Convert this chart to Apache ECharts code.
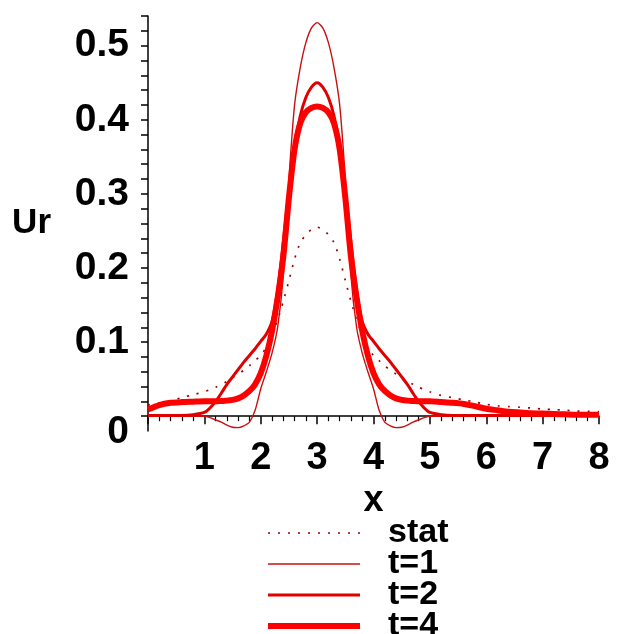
<!DOCTYPE html>
<html>
<head>
<meta charset="utf-8">
<script src="https://cdn.jsdelivr.net/npm/echarts@6/dist/echarts.min.js"></script>
<style>
html,body{margin:0;padding:0;background:#fff;overflow:hidden;}
#c{width:617px;height:720px;}
</style>
</head>
<body>
<div id="c"></div>
<script>
var xs = [0,0.2,0.4,0.6,0.8,1,1.1,1.2,1.3,1.4,1.5,1.6,1.7,1.8,1.9,2,2.1,2.2,2.3,2.4,2.5,2.6,2.7,2.8,2.9,3,3.1,3.2,3.3,3.4,3.5,3.6,3.7,3.8,3.9,4,4.1,4.2,4.3,4.4,4.5,4.6,4.7,4.8,4.9,5,5.2,5.4,5.6,5.8,6,6.2,6.4,6.6,6.8,7,7.2,7.4,7.6,7.8,8];

var stat = [0.015,0.018,0.021,0.025,0.029,
0.033,0.036,0.039,0.043,0.047,0.052,0.057,0.062,0.068,0.075,0.082,0.093,0.110,0.130,0.155,0.183,0.212,0.234,0.245,0.252,
0.255,
0.252,0.245,0.234,0.212,0.183,0.155,0.130,0.110,0.093,0.082,0.075,0.068,0.062,0.057,0.052,0.047,0.043,0.039,0.036,0.033,
0.028,0.025,0.022,0.019,0.016,0.014,0.013,0.012,0.011,0.0095,0.009,0.008,0.007,0.0065,0.006];

var t1 = [0,0,0,0,0,
0,-0.002,-0.005,-0.008,-0.012,-0.015,-0.0155,-0.013,-0.008,0.008,0.037,0.06,0.085,0.12,0.19,0.32,0.42,0.47,0.504,0.524,
0.531,
0.524,0.504,0.47,0.42,0.32,0.19,0.12,0.085,0.06,0.037,0.008,-0.008,-0.013,-0.0155,-0.015,-0.012,-0.008,-0.005,-0.002,0,
0,0,0,0,0,0,0,0,0,0,0,0,0,0,0];

var t2 = [0.001,0.001,0.001,0.001,0.002,
0.005,0.011,0.02,0.031,0.043,0.053,0.063,0.073,0.082,0.091,0.101,0.111,0.128,0.17,0.235,0.305,0.365,0.405,0.43,0.444,
0.45,
0.444,0.43,0.405,0.365,0.305,0.235,0.17,0.128,0.111,0.101,0.091,0.082,0.073,0.063,0.053,0.043,0.031,0.02,0.011,0.005,
0.002,0.001,0.001,0.001,0.001,0.001,0.001,0.001,0.001,0.001,0.001,0.001,0.001,0.001,0.001];

var t4 = [0.009,0.015,0.018,0.019,0.0195,
0.02,0.02,0.02,0.0205,0.021,0.022,0.024,0.028,0.034,0.043,0.058,0.082,0.115,0.16,0.215,0.295,0.36,0.395,0.41,0.416,
0.418,
0.416,0.41,0.395,0.36,0.295,0.215,0.16,0.115,0.082,0.058,0.043,0.034,0.028,0.024,0.022,0.021,0.0205,0.02,0.02,0.02,
0.019,0.018,0.0165,0.0135,0.01,0.008,0.006,0.005,0.004,0.0035,0.003,0.0025,0.002,0.002,0.002];

var seriesNames = ['stat','t=1','t=2','t=4'];
var yTickLabels = ['0','0.1','0.2','0.3','0.4','0.5'];

function pairs(arr){ return xs.map(function(x,i){ return [x, arr[i]]; }); }

var FONT = 'Liberation Sans';
var chart = echarts.init(document.getElementById('c'), null, {renderer:'canvas'});
chart.setOption({
  animation: false,
  backgroundColor: '#ffffff',
  grid: {left: 148, right: 18, top: 16, bottom: 289, containLabel: false},
  xAxis: {
    type: 'value', min: 0, max: 8, interval: 1,
    name: 'x', nameLocation: 'middle', nameGap: 52,
    nameTextStyle: {fontFamily: FONT, fontWeight: 'bold', fontSize: 36, color: '#000'},
    axisLine: {show: true, onZero: true, lineStyle: {color: '#000', width: 1.5}},
    axisTick: {show: true, length: 8, lineStyle: {color: '#000', width: 1.5}},
    minorTick: {show: true, splitNumber: 5, length: 5, lineStyle: {color: '#000', width: 1.2}},
    splitLine: {show: false},
    axisLabel: {
      margin: 9, fontFamily: FONT, fontWeight: 'bold', fontSize: 38, color: '#000',
      formatter: function(v){ return v === 0 ? '' : String(v); }
    }
  },
  yAxis: {
    type: 'value', min: -0.02, max: 0.54, interval: 0.02,
    name: 'Ur', nameLocation: 'middle', nameRotate: 0, nameGap: 97,
    nameTextStyle: {fontFamily: FONT, fontWeight: 'bold', fontSize: 35, color: '#000'},
    axisLine: {show: true, onZero: false, lineStyle: {color: '#000', width: 1.5}},
    axisTick: {show: true, length: 7, lineStyle: {color: '#000', width: 1.5}},
    splitLine: {show: false},
    axisLabel: {
      margin: 19, fontFamily: FONT, fontWeight: 'bold', fontSize: 39, color: '#000',
      showMinLabel: false,
      formatter: function(v){
        var k = Math.round(v * 100);
        if (k < 0 || k % 10 !== 0) return '';
        var s = yTickLabels[k / 10];
        if (k === 0) return '{z|' + s + '}';
        return s;
      },
      rich: {z: {fontFamily: FONT, fontWeight: 'bold', fontSize: 39, color: '#000', padding: [32, 0, 0, 0]}}
    }
  },
  legend: {
    orient: 'vertical', left: 265, top: 516, padding: 0,
    itemWidth: 92, itemHeight: 14, itemGap: -3,
    itemStyle: {opacity: 0},
    lineStyle: {width: 'inherit', type: 'inherit', color: 'inherit'},
    data: seriesNames,
    textStyle: {fontFamily: FONT, fontWeight: 'bold', fontSize: 34, color: '#000', lineHeight: 30, padding: [0,0,0,23]}
  },
  series: [
    {name: seriesNames[0], type: 'line', data: pairs(stat), symbol: 'none', smooth: 0.25,
     lineStyle: {color: '#a00000', width: 1.7, type: [2, 8]}, itemStyle: {color: '#a00000'}, z: 2},
    {name: seriesNames[1], type: 'line', data: pairs(t1), symbol: 'none', smooth: 0.25,
     lineStyle: {color: '#c81010', width: 1.4}, itemStyle: {color: '#c81010'}, z: 3},
    {name: seriesNames[2], type: 'line', data: pairs(t2), symbol: 'none', smooth: 0.25,
     lineStyle: {color: '#e00000', width: 3}, itemStyle: {color: '#e00000'}, z: 4},
    {name: seriesNames[3], type: 'line', data: pairs(t4), symbol: 'none', smooth: 0.25,
     lineStyle: {color: '#ff0000', width: 6}, itemStyle: {color: '#ff0000'}, z: 5}
  ]
});
</script>
</body>
</html>
